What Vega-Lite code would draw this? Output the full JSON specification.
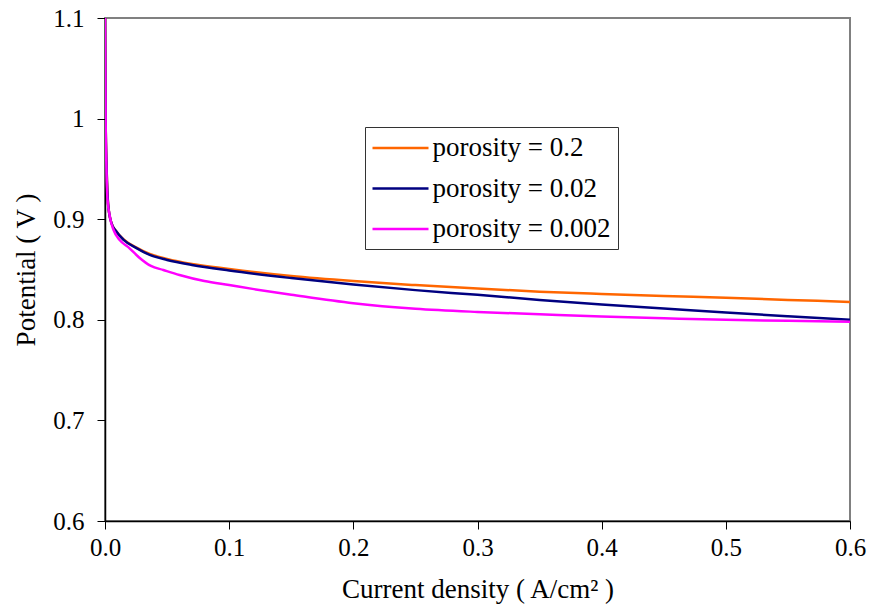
{
  "$schema": "https://vega.github.io/schema/vega-lite/v6.json",
  "width": 745,
  "height": 503,
  "autosize": {"type": "none"},
  "padding": {"left": 105, "top": 18, "right": 20, "bottom": 85},
  "background": "white",
  "config": {
    "font": "Liberation Serif",
    "view": {"stroke": "#808080", "strokeWidth": 2}
  },
  "data": {
    "values": [
      {"series": "porosity = 0.2", "x": 0, "y": 1.1},
      {"series": "porosity = 0.2", "x": 0.0005, "y": 1.0},
      {"series": "porosity = 0.2", "x": 0.0013, "y": 0.95},
      {"series": "porosity = 0.2", "x": 0.0025, "y": 0.915},
      {"series": "porosity = 0.2", "x": 0.005, "y": 0.897},
      {"series": "porosity = 0.2", "x": 0.009, "y": 0.888},
      {"series": "porosity = 0.2", "x": 0.015, "y": 0.88},
      {"series": "porosity = 0.2", "x": 0.025, "y": 0.872},
      {"series": "porosity = 0.2", "x": 0.036, "y": 0.8655},
      {"series": "porosity = 0.2", "x": 0.05, "y": 0.8605},
      {"series": "porosity = 0.2", "x": 0.07, "y": 0.8555},
      {"series": "porosity = 0.2", "x": 0.1, "y": 0.8505},
      {"series": "porosity = 0.2", "x": 0.15, "y": 0.8435},
      {"series": "porosity = 0.2", "x": 0.2, "y": 0.8385},
      {"series": "porosity = 0.2", "x": 0.25, "y": 0.8345},
      {"series": "porosity = 0.2", "x": 0.3, "y": 0.831},
      {"series": "porosity = 0.2", "x": 0.35, "y": 0.828},
      {"series": "porosity = 0.2", "x": 0.4, "y": 0.8257},
      {"series": "porosity = 0.2", "x": 0.45, "y": 0.8237},
      {"series": "porosity = 0.2", "x": 0.5, "y": 0.8218},
      {"series": "porosity = 0.2", "x": 0.55, "y": 0.8198},
      {"series": "porosity = 0.2", "x": 0.6, "y": 0.8178},

      {"series": "porosity = 0.02", "x": 0, "y": 1.1},
      {"series": "porosity = 0.02", "x": 0.0005, "y": 1.0},
      {"series": "porosity = 0.02", "x": 0.0013, "y": 0.95},
      {"series": "porosity = 0.02", "x": 0.0025, "y": 0.915},
      {"series": "porosity = 0.02", "x": 0.005, "y": 0.897},
      {"series": "porosity = 0.02", "x": 0.009, "y": 0.888},
      {"series": "porosity = 0.02", "x": 0.015, "y": 0.8795},
      {"series": "porosity = 0.02", "x": 0.025, "y": 0.8715},
      {"series": "porosity = 0.02", "x": 0.036, "y": 0.8645},
      {"series": "porosity = 0.02", "x": 0.05, "y": 0.8595},
      {"series": "porosity = 0.02", "x": 0.07, "y": 0.8545},
      {"series": "porosity = 0.02", "x": 0.1, "y": 0.849},
      {"series": "porosity = 0.02", "x": 0.15, "y": 0.8415},
      {"series": "porosity = 0.02", "x": 0.2, "y": 0.835},
      {"series": "porosity = 0.02", "x": 0.25, "y": 0.8295},
      {"series": "porosity = 0.02", "x": 0.3, "y": 0.8248},
      {"series": "porosity = 0.02", "x": 0.35, "y": 0.8198},
      {"series": "porosity = 0.02", "x": 0.4, "y": 0.8152},
      {"series": "porosity = 0.02", "x": 0.45, "y": 0.8112},
      {"series": "porosity = 0.02", "x": 0.5, "y": 0.8072},
      {"series": "porosity = 0.02", "x": 0.55, "y": 0.8035},
      {"series": "porosity = 0.02", "x": 0.6, "y": 0.8},

      {"series": "porosity = 0.002", "x": 0, "y": 1.1},
      {"series": "porosity = 0.002", "x": 0.0005, "y": 1.0},
      {"series": "porosity = 0.002", "x": 0.0012, "y": 0.95},
      {"series": "porosity = 0.002", "x": 0.002, "y": 0.92},
      {"series": "porosity = 0.002", "x": 0.004, "y": 0.902},
      {"series": "porosity = 0.002", "x": 0.007, "y": 0.889},
      {"series": "porosity = 0.002", "x": 0.012, "y": 0.879},
      {"series": "porosity = 0.002", "x": 0.0185, "y": 0.8725},
      {"series": "porosity = 0.002", "x": 0.027, "y": 0.8625},
      {"series": "porosity = 0.002", "x": 0.037, "y": 0.8535},
      {"series": "porosity = 0.002", "x": 0.047, "y": 0.8495},
      {"series": "porosity = 0.002", "x": 0.06, "y": 0.8445},
      {"series": "porosity = 0.002", "x": 0.08, "y": 0.8385},
      {"series": "porosity = 0.002", "x": 0.1, "y": 0.8345},
      {"series": "porosity = 0.002", "x": 0.12, "y": 0.8305},
      {"series": "porosity = 0.002", "x": 0.15, "y": 0.825},
      {"series": "porosity = 0.002", "x": 0.2, "y": 0.8165},
      {"series": "porosity = 0.002", "x": 0.25, "y": 0.811},
      {"series": "porosity = 0.002", "x": 0.3, "y": 0.8078},
      {"series": "porosity = 0.002", "x": 0.35, "y": 0.8055},
      {"series": "porosity = 0.002", "x": 0.4, "y": 0.8032},
      {"series": "porosity = 0.002", "x": 0.45, "y": 0.8015},
      {"series": "porosity = 0.002", "x": 0.5, "y": 0.8},
      {"series": "porosity = 0.002", "x": 0.55, "y": 0.799},
      {"series": "porosity = 0.002", "x": 0.6, "y": 0.798}
    ]
  },
  "mark": {"type": "line", "strokeWidth": 2.5, "clip": true, "interpolate": "monotone"},
  "encoding": {
    "x": {
      "field": "x",
      "type": "quantitative",
      "scale": {"domain": [0, 0.6], "nice": false, "zero": false},
      "axis": {
        "title": "Current density ( A/cm² )",
        "titleFont": "Liberation Serif",
        "titleFontSize": 27,
        "titleFontWeight": "normal",
        "titleColor": "black",
        "titlePadding": 16,
        "values": [0, 0.1, 0.2, 0.3, 0.4, 0.5, 0.6],
        "format": ".1f",
        "labelFont": "Liberation Serif",
        "labelFontSize": 25,
        "labelColor": "black",
        "labelPadding": 6,
        "labelFlush": false,
        "tickSize": 8,
        "tickColor": "black",
        "domainColor": "black",
        "domainWidth": 1.5,
        "grid": false
      }
    },
    "y": {
      "field": "y",
      "type": "quantitative",
      "scale": {"domain": [0.6, 1.1], "nice": false, "zero": false},
      "axis": {
        "title": "Potential ( V )",
        "titleFont": "Liberation Serif",
        "titleFontSize": 27,
        "titleFontWeight": "normal",
        "titleColor": "black",
        "titlePadding": 12,
        "values": [0.6, 0.7, 0.8, 0.9, 1.0, 1.1],
        "labelExpr": "datum.value == 1 ? '1' : format(datum.value, '.1f')",
        "labelFont": "Liberation Serif",
        "labelFontSize": 25,
        "labelColor": "black",
        "labelPadding": 13,
        "labelFlush": false,
        "tickSize": 8,
        "tickColor": "black",
        "domainColor": "black",
        "domainWidth": 1.5,
        "grid": false
      }
    },
    "color": {
      "field": "series",
      "type": "nominal",
      "scale": {
        "domain": ["porosity = 0.2", "porosity = 0.02", "porosity = 0.002"],
        "range": ["#FF6600", "#000080", "#FF00FF"]
      },
      "legend": {
        "title": null,
        "orient": "none",
        "legendX": 260,
        "legendY": 109,
        "symbolType": "M-2.24,0H2.24",
        "symbolSize": 625,
        "symbolStrokeWidth": 2.5,
        "symbolOffset": 14.5,
        "labelFont": "Liberation Serif",
        "labelFontSize": 27,
        "labelColor": "black",
        "labelLimit": 400,
        "labelOffset": 18,
        "rowPadding": 13.5,
        "padding": 7,
        "strokeColor": "#333333",
        "fillColor": "white"
      }
    }
  }
}
